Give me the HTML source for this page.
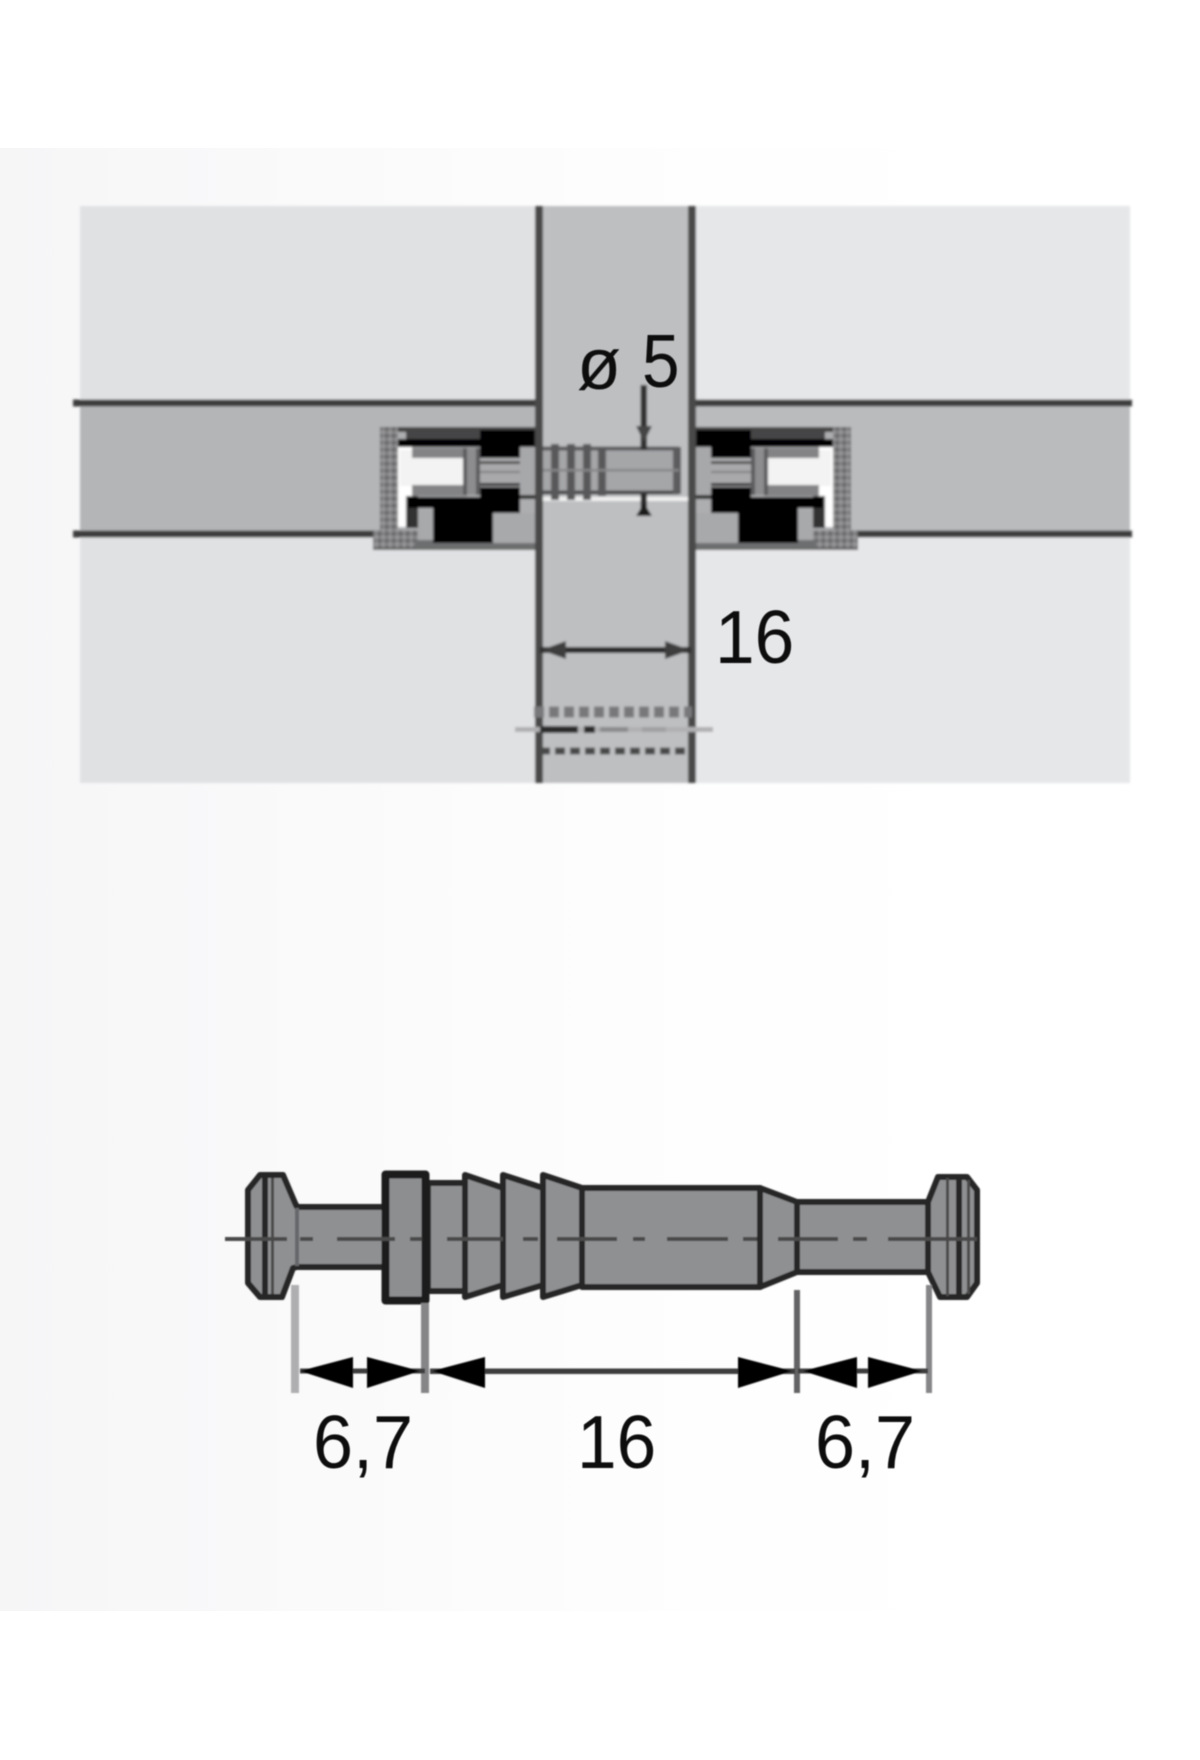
<!DOCTYPE html>
<html>
<head>
<meta charset="utf-8">
<style>
html,body{margin:0;padding:0;background:#fff;width:1200px;height:1760px;overflow:hidden}
svg{display:block}
text{font-family:"Liberation Sans",sans-serif;fill:#0a0a0a}
</style>
</head>
<body>
<svg width="1200" height="1760" viewBox="0 0 1200 1760" xmlns="http://www.w3.org/2000/svg">
<defs>
<linearGradient id="bg" x1="0" x2="1" y1="0" y2="0">
<stop offset="0" stop-color="#f6f6f7"/>
<stop offset="0.2" stop-color="#f9f9fa"/>
<stop offset="0.5" stop-color="#fdfdfd"/>
<stop offset="0.8" stop-color="#ffffff"/>
</linearGradient>
<pattern id="stip" width="7" height="7" patternUnits="userSpaceOnUse">
<rect width="7" height="7" fill="#828284"/>
<rect x="0" y="0" width="3.5" height="3.5" fill="#666668"/>
<rect x="3.5" y="3.5" width="3.5" height="3.5" fill="#98989a"/>
</pattern>
<filter id="b1" x="-5%" y="-5%" width="110%" height="110%"><feGaussianBlur stdDeviation="1.2"/></filter>
<filter id="b2" x="-5%" y="-5%" width="110%" height="110%"><feGaussianBlur stdDeviation="0.8"/></filter>
<filter id="b3" x="-5%" y="-5%" width="110%" height="110%"><feGaussianBlur stdDeviation="0.5"/></filter>
<g id="housing">
  <rect x="380" y="427" width="159" height="123" fill="#adaeb0"/>
  <rect x="373" y="530" width="60" height="20" fill="url(#stip)"/>
  <rect x="380" y="427" width="18" height="108" fill="url(#stip)"/>
  <rect x="398" y="427" width="141" height="5" fill="#444"/>
  <rect x="406" y="432" width="104" height="7" fill="#444446"/>
  <rect x="398" y="439" width="140" height="8" fill="#050505"/>
  <rect x="480" y="430" width="58" height="28" fill="#050505"/>
  <rect x="398" y="447" width="14" height="80" fill="#ffffff"/>
  <rect x="400" y="450" width="66" height="36" fill="#f3f3f3"/>
  <rect x="412" y="448" width="55" height="10" fill="#838385"/>
  <rect x="412" y="485" width="55" height="11" fill="#838385"/>
  <rect x="406" y="496" width="12" height="32" fill="#333"/>
  <rect x="418" y="510" width="15" height="30" fill="#a8a9ab"/>
  <polygon fill="#030303" points="408,497 480,497 480,487 520,487 520,513 493,513 493,550 433,550 433,508 408,508"/>
  <rect x="493" y="513" width="46" height="30" fill="#a8a9ab"/>
  <rect x="433" y="543" width="106" height="7" fill="#6d6e70"/>
  <rect x="415" y="540" width="18" height="10" fill="#6d6e70"/>
  <rect x="463" y="448" width="17" height="47" fill="#8d8d8f"/>
  <rect x="463" y="448" width="4" height="47" fill="#5c5c5e"/>
  <rect x="476" y="448" width="4" height="47" fill="#5c5c5e"/>
  <rect x="480" y="461" width="40" height="25" fill="#a9a9ab"/>
  <rect x="480" y="461" width="40" height="3" fill="#555"/>
  <rect x="480" y="483" width="40" height="3" fill="#333"/>
  <rect x="480" y="471" width="40" height="2" fill="#808082"/>
  <rect x="520" y="447" width="19" height="50" fill="#a7a8aa"/>
  <rect x="520" y="495" width="19" height="4" fill="#333"/>
  <rect x="373" y="548" width="166" height="2" fill="#666"/>
</g>
</defs>

<rect x="0" y="148" width="1200" height="1463" fill="url(#bg)"/>

<g filter="url(#b1)">
  <!-- panels -->
  <rect x="80" y="206" width="459" height="577" fill="#e0e1e3"/>
  <rect x="692" y="206" width="438" height="577" fill="#e6e7e9"/>
  <rect x="80" y="403" width="459" height="131" fill="#b4b5b7"/>
  <rect x="692" y="403" width="438" height="131" fill="#babbbd"/>
  <rect x="539" y="206" width="153" height="577" fill="#bebfc1"/>
  <rect x="73" y="399.5" width="466" height="7" fill="#3c3c3c"/>
  <rect x="692" y="399.5" width="440" height="7" fill="#3c3c3c"/>
  <rect x="73" y="530.5" width="307" height="7" fill="#3c3c3c"/>
  <rect x="852" y="530.5" width="280" height="7" fill="#3c3c3c"/>

  <!-- housings -->
  <use href="#housing"/>
  <use href="#housing" transform="translate(1231,0) scale(-1,1)"/>

  <!-- pin -->
  <rect x="539" y="497" width="153" height="4" fill="#f0f0f0"/>
  <rect x="539" y="448" width="140" height="45" fill="#a5a6a8"/>
  <rect x="539" y="446.5" width="140" height="4" fill="#5c5c5e"/>
  <rect x="539" y="490.5" width="140" height="4" fill="#4c4c4e"/>
  <rect x="551" y="444" width="8" height="56" fill="#58585a"/>
  <rect x="567" y="444" width="8" height="56" fill="#58585a"/>
  <rect x="583" y="444" width="8" height="56" fill="#58585a"/>
  <rect x="598" y="447" width="8" height="49" fill="#58585a"/>
  <rect x="673" y="447" width="8" height="47" fill="#5c5c5e"/>
  <rect x="539" y="469" width="140" height="2.5" fill="#858587"/>

  <!-- vertical lines -->
  <rect x="535" y="206" width="8" height="577" fill="#4a4a4a"/>
  <rect x="688" y="206" width="8" height="577" fill="#4a4a4a"/>

  <!-- ø dimension arrows -->
  <rect x="640.5" y="385" width="6.5" height="65" fill="#333"/>
  <polygon points="636,426 652,426 644,442" fill="#444"/>
  <rect x="640.5" y="493" width="6.5" height="20" fill="#2a2a2a"/>
  <polygon points="636,516 652,516 644,503" fill="#1c1c1c"/>

  <!-- 16 dimension -->
  <rect x="540" y="647" width="151" height="6" fill="#2c2c2c"/>
  <polygon points="541,650 566,641 566,659" fill="#3c3c3c"/>
  <polygon points="690,650 665,641 665,659" fill="#3c3c3c"/>

  <!-- bottom dashes -->
  <line x1="534" x2="692" y1="712" y2="712" stroke="#78787a" stroke-width="11" stroke-dasharray="10 5"/>
  <line x1="540" x2="692" y1="751" y2="751" stroke="#4a4a4a" stroke-width="7" stroke-dasharray="10 5"/>
  <rect x="515" y="727" width="198" height="5" fill="#b0b0b2"/>
  <rect x="540" y="726" width="38" height="7" fill="#2c2c2c"/>
  <rect x="584" y="726" width="11" height="7" fill="#2c2c2c"/>
  <rect x="600" y="727" width="28" height="5" fill="#8b8b8d"/>
  <rect x="642" y="727" width="24" height="5" fill="#a0a0a2"/>
</g>

<!-- lower pin -->
<g filter="url(#b2)" stroke-linejoin="round">
  <g fill="#8f9092" stroke="#262626" stroke-width="6">
    <polygon points="248,1190 260,1175 283,1175 295,1203 297,1207 385,1207 385,1267 297,1267 293,1268 282,1297 260,1297 248,1283"/>
    <polygon points="428,1183 465,1183 465,1291 428,1291"/>
    <polygon points="465,1175 503,1188 503,1285 465,1297"/>
    <polygon points="503,1175 543,1188 543,1285 503,1297"/>
    <polygon points="543,1175 582,1188 582,1285 543,1297"/>
    <polygon points="582,1188 760,1188 760,1287 582,1287"/>
    <polygon points="760,1188 797,1202 797,1272 760,1287"/>
    <polygon points="797,1202 928,1202 928,1272 797,1272"/>
    <polygon points="928,1202 938,1177 967,1177 977,1190 977,1283 967,1297 940,1297 928,1272"/>
  </g>
  <rect x="385.5" y="1174.5" width="40" height="126" fill="#8d8e90" stroke="#1f1f1f" stroke-width="8"/>
  <g fill="#262626">
    <rect x="262" y="1176" width="6" height="120"/>
    <rect x="271" y="1178" width="3" height="116" fill="#4a4a4a"/>
    <rect x="295" y="1208" width="4" height="58" fill="#66676a"/>
    <rect x="946" y="1178" width="3" height="118" fill="#4a4a4a"/>
    <rect x="956" y="1178" width="6" height="118"/>
    <rect x="967" y="1180" width="3" height="114" fill="#4a4a4a"/>
  </g>
  <g fill="#48484a">
    <rect x="225" y="1237" width="62" height="4"/>
    <rect x="300" y="1237" width="13" height="4"/>
    <rect x="337" y="1237" width="58" height="4"/>
    <rect x="410" y="1237" width="12" height="4"/>
    <rect x="447" y="1237" width="56" height="4"/>
    <rect x="523" y="1237" width="15" height="4"/>
    <rect x="557" y="1237" width="60" height="4"/>
    <rect x="633" y="1237" width="12" height="4"/>
    <rect x="667" y="1237" width="61" height="4"/>
    <rect x="743" y="1237" width="14" height="4"/>
    <rect x="778" y="1237" width="60" height="4"/>
    <rect x="853" y="1237" width="14" height="4"/>
    <rect x="888" y="1237" width="89" height="4"/>
  </g>

  <!-- extension lines -->
  <rect x="291" y="1285" width="8" height="108" fill="#aeaeb0"/>
  <rect x="421" y="1303" width="8" height="90" fill="#858587"/>
  <rect x="794" y="1290" width="6" height="103" fill="#636365"/>
  <rect x="926" y="1285" width="6" height="108" fill="#858587"/>

  <!-- dimension line -->
  <rect x="300" y="1368.5" width="125" height="5" fill="#3c3c3c"/>
  <rect x="430" y="1368.5" width="365" height="5.5" fill="#3c3c3c"/>
  <rect x="798" y="1368.5" width="130" height="5" fill="#3c3c3c"/>
  <g fill="#050505">
    <polygon points="300,1371 353,1357 353,1388"/>
    <polygon points="420,1371 367,1357 367,1388"/>
    <polygon points="432,1371 485,1357 485,1388"/>
    <polygon points="792,1371 738,1357 738,1388"/>
    <polygon points="803,1371 857,1357 857,1388"/>
    <polygon points="922,1371 868,1357 868,1388"/>
  </g>
</g>

<!-- labels -->
<g filter="url(#b3)">
  <text x="577" y="389" font-size="72">ø</text>
  <text transform="translate(642,387) scale(.9,1)" font-size="75">5</text>
  <text transform="translate(715,663) scale(.95,1)" font-size="75">16</text>
  <text transform="translate(577,1468) scale(.95,1)" font-size="75">16</text>
  <text transform="translate(313,1468) scale(.96,1)" font-size="75">6,7</text>
  <text transform="translate(815,1468) scale(.96,1)" font-size="75">6,7</text>
</g>
</svg>
</body>
</html>
